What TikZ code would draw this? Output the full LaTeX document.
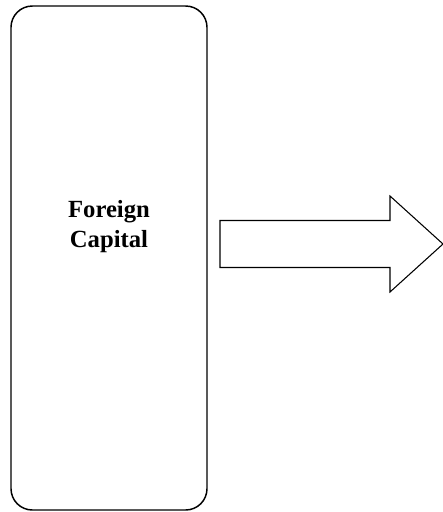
\documentclass[tikz,border=0pt]{standalone}
\usepackage{fontspec}
\setmainfont{Liberation Serif}
\usetikzlibrary{positioning}

\begin{document}
\begin{tikzpicture}[
    x=0.75pt, y=-0.75pt,
    capbox/.style={rectangle, draw, line width=1.1pt, rounded corners=16pt, minimum width=147pt, minimum height=378pt, inner sep=0pt},
    bigarrow/.style={draw, line width=0.8pt, fill=white}
]
\useasboundingbox (0,0) rectangle (443,512);
\node[capbox] (capital) at (109,258) {};
\node[font=\bfseries\fontsize{18.5}{22.5}\selectfont, align=center, inner sep=0pt] (label) at (109,227) {Foreign\\Capital};

% arrow to the right
\coordinate (tail) at (220,244);
\draw[bigarrow] (tail) ++(0,-23.5) -- ++(170,0) -- ++(0,-24.5) -- (443,244) -- (390,292) -- ++(0,-24.5) -- ++(-170,0) -- cycle;
\end{tikzpicture}
\end{document}
